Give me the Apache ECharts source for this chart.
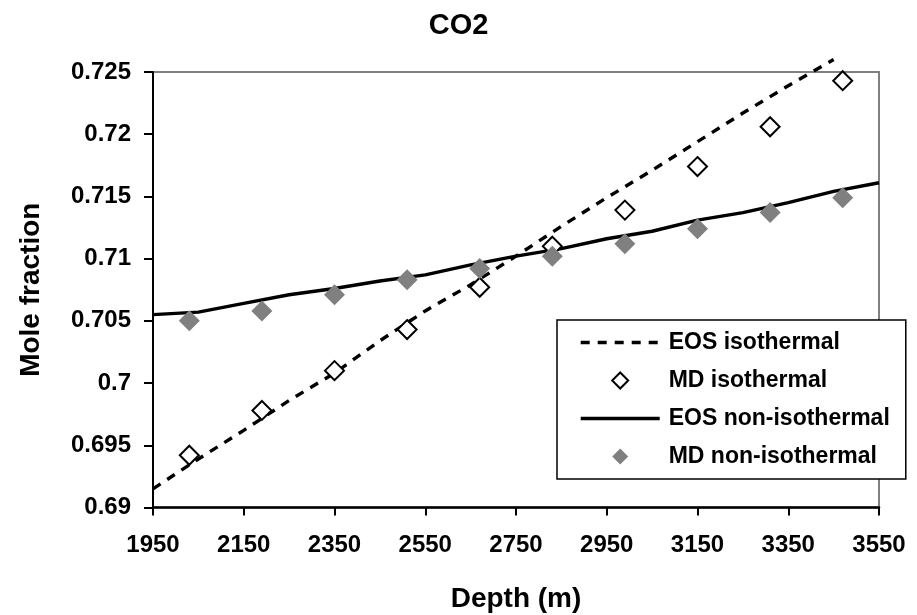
<!DOCTYPE html>
<html>
<head>
<meta charset="utf-8">
<title>CO2</title>
<script src="https://cdn.jsdelivr.net/npm/echarts@6/dist/echarts.min.js"></script>
<style>
  html, body { margin: 0; padding: 0; background: #ffffff; }
  #chart { width: 917px; height: 615px; }
</style>
</head>
<body>
<div id="chart"></div>
<script>
// Depths (m) of the molecular-dynamics samples
const mdDepths = [2030, 2190, 2350, 2510, 2670, 2830, 2990, 3150, 3310, 3470];
// CO2 mole fraction from MD, isothermal and non-isothermal runs
const mdIsothermal = [0.6942, 0.6978, 0.7010, 0.7043, 0.7077, 0.7110, 0.7139, 0.7174, 0.7206, 0.7243];
const mdNonIsothermal = [0.7050, 0.7058, 0.7071, 0.7083, 0.7092, 0.7102, 0.7112, 0.7124, 0.7137, 0.7149];

// Equation-of-state profiles
const eosIsoDepths = [1950, 2050, 2150, 2250, 2350, 2450, 2550, 2650, 2750, 2850, 2950, 3050, 3150, 3250, 3350, 3450];
const eosIsothermal = [0.6915, 0.6939, 0.6962, 0.6986, 0.7008, 0.7034, 0.7058, 0.7079, 0.7102, 0.7126, 0.7149, 0.7171, 0.7194, 0.7217, 0.7239, 0.7260];
const eosNonIsoDepths = [1950, 2050, 2150, 2250, 2350, 2450, 2550, 2650, 2750, 2850, 2950, 3050, 3150, 3250, 3350, 3450, 3550];
const eosNonIsothermal = [0.7055, 0.7057, 0.7064, 0.7071, 0.7076, 0.7082, 0.7087, 0.7095, 0.7102, 0.7108, 0.7116, 0.7122, 0.7131, 0.7137, 0.7145, 0.7154, 0.7161];

// Axis ticks
const depthTicks = [1950, 2150, 2350, 2550, 2750, 2950, 3150, 3350, 3550];
const fractionTicks = [0.69, 0.695, 0.7, 0.705, 0.71, 0.715, 0.72, 0.725];

const seriesNames = ['EOS isothermal', 'MD isothermal', 'EOS non-isothermal', 'MD non-isothermal'];

function pairs(xs, ys) {
  return xs.map((x, i) => [x, ys[i]]);
}

const FONT = '"Liberation Sans", Arial, sans-serif';
const chart = echarts.init(document.getElementById('chart'), null, { renderer: 'canvas' });

// Line entries in the legend show only their stroke, no marker
const hiddenMarker = { color: 'transparent', borderColor: 'transparent', borderWidth: 0, opacity: 0 };
// Centred diamond inside the wide legend slot (the move-to points pin the slot's extent)
const legendDiamond = 'path://M0,0 M79,16 M39.5,-1 L48.5,8 L39.5,17 L30.5,8 Z';

chart.setOption({
  backgroundColor: '#ffffff',
  animation: false,
  title: {
    text: 'CO2',
    left: 'center',
    top: 6,
    textStyle: { fontFamily: FONT, fontWeight: 'bold', fontSize: 29, color: '#000000' }
  },
  grid: {
    left: 153, right: 38, top: 72, bottom: 107.5,
    show: true, borderColor: '#808080', borderWidth: 2,
    backgroundColor: 'transparent',
    outerBoundsMode: 'none'
  },
  legend: {
    orient: 'vertical',
    left: 557, top: 320,
    padding: [11, 16, 11, 22],
    itemWidth: 79, itemHeight: 16, itemGap: 15,
    backgroundColor: '#ffffff',
    borderColor: '#000000', borderWidth: 1.5, borderRadius: 0,
    selectedMode: false,
    lineStyle: { width: 3.4 },
    data: [
      { name: seriesNames[0], itemStyle: hiddenMarker },
      { name: seriesNames[1], icon: legendDiamond },
      { name: seriesNames[2], itemStyle: hiddenMarker },
      { name: seriesNames[3], icon: legendDiamond }
    ],
    textStyle: { fontFamily: FONT, fontWeight: 'bold', fontSize: 23, color: '#000000', padding: [0, 0, 0, 4] }
  },
  xAxis: {
    type: 'value',
    min: 1950, max: 3550,
    name: 'Depth (m)',
    nameLocation: 'middle',
    nameGap: 78,
    nameTextStyle: { fontFamily: FONT, fontWeight: 'bold', fontSize: 28, color: '#000000' },
    axisLine: { show: true, onZero: false, lineStyle: { color: '#000000', width: 2.5 } },
    axisTick: { show: true, inside: false, length: 8, customValues: depthTicks, lineStyle: { color: '#000000', width: 2 } },
    axisLabel: {
      customValues: depthTicks, margin: 26,
      fontFamily: FONT, fontWeight: 'bold', fontSize: 24, color: '#000000',
      formatter: v => String(Math.round(v))
    },
    splitLine: { show: false }
  },
  yAxis: {
    type: 'value',
    min: 0.69, max: 0.725,
    name: 'Mole fraction',
    nameLocation: 'middle',
    nameGap: 108,
    nameTextStyle: { fontFamily: FONT, fontWeight: 'bold', fontSize: 28, color: '#000000' },
    axisLine: { show: true, onZero: false, lineStyle: { color: '#000000', width: 2 } },
    axisTick: { show: true, inside: false, length: 9, customValues: fractionTicks, lineStyle: { color: '#000000', width: 2 } },
    axisLabel: {
      customValues: fractionTicks, margin: 22,
      fontFamily: FONT, fontWeight: 'bold', fontSize: 24, color: '#000000',
      formatter: v => String(parseFloat(v.toFixed(3)))
    },
    splitLine: { show: false }
  },
  series: [
    {
      name: seriesNames[0],
      type: 'line',
      data: pairs(eosIsoDepths, eosIsothermal),
      symbol: 'none',
      clip: false,
      smooth: false,
      z: 2,
      lineStyle: { color: '#000000', width: 3.4, type: [9, 8], cap: 'butt' },
      itemStyle: { color: '#000000' }
    },
    {
      name: seriesNames[1],
      type: 'scatter',
      data: pairs(mdDepths, mdIsothermal),
      symbol: 'diamond',
      symbolSize: 19,
      z: 4,
      itemStyle: { color: '#ffffff', borderColor: '#000000', borderWidth: 2, opacity: 1 }
    },
    {
      name: seriesNames[2],
      type: 'line',
      data: pairs(eosNonIsoDepths, eosNonIsothermal),
      symbol: 'none',
      smooth: false,
      z: 2,
      lineStyle: { color: '#000000', width: 3.4, type: 'solid' },
      itemStyle: { color: '#000000' }
    },
    {
      name: seriesNames[3],
      type: 'scatter',
      data: pairs(mdDepths, mdNonIsothermal),
      symbol: 'diamond',
      symbolSize: 21,
      z: 4,
      itemStyle: { color: '#808080', borderWidth: 0, opacity: 1 }
    }
  ]
});
</script>
</body>
</html>
